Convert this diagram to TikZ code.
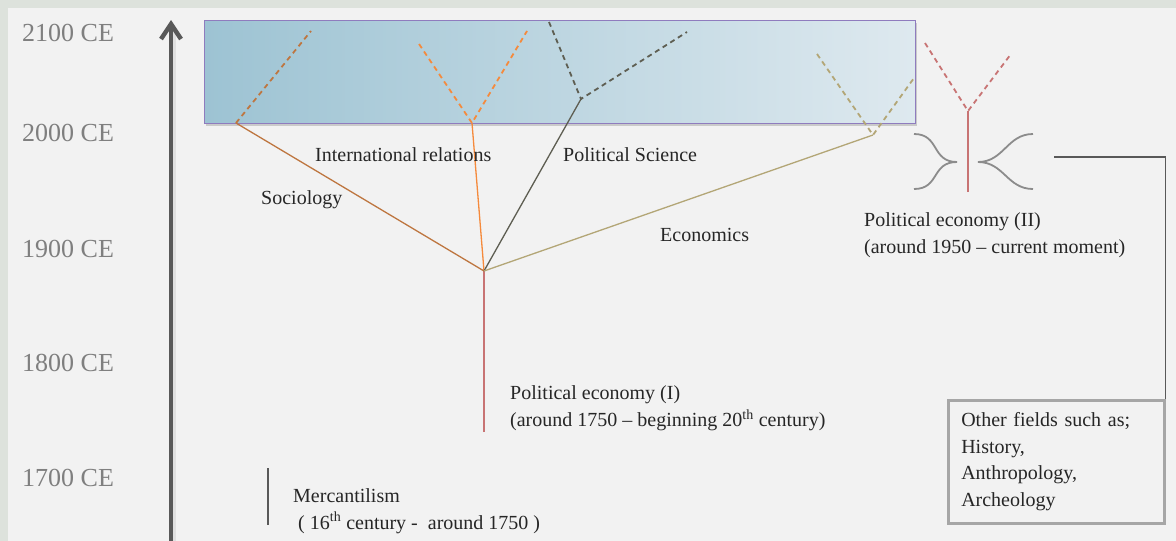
\documentclass[tikz,border=0pt]{standalone}
\usepackage{fontspec}
\setmainfont{Liberation Serif}
\usetikzlibrary{arrows.meta,shadows}
\definecolor{frame}{HTML}{DDE2DC}
\definecolor{panel}{HTML}{F2F2F2}
\definecolor{yeargray}{HTML}{7F7F7F}
\definecolor{axisgray}{HTML}{595959}
\definecolor{socbrown}{HTML}{BE7640}
\definecolor{irorange}{HTML}{F58A3C}
\definecolor{psgray}{HTML}{5E5E52}
\definecolor{eckhaki}{HTML}{B3A676}
\definecolor{pered}{HTML}{C87474}
\definecolor{bandleft}{HTML}{9DC3D3}
\definecolor{bandright}{HTML}{DEE9EF}
\definecolor{bandedge}{HTML}{8F7CBE}
\definecolor{bracegray}{HTML}{8C8C8C}
\definecolor{boxgray}{HTML}{A6A6A6}
\definecolor{textdark}{HTML}{262626}
\tikzset{
  year/.style={anchor=west, inner sep=0pt, text=yeargray, font=\fontsize{26}{30}\selectfont},
  lbl/.style={anchor=west, inner sep=0pt, text=textdark, align=left, font=\fontsize{20}{27}\selectfont},
  solidbranch/.style={line width=1.3pt},
  futurebranch/.style={line width=1.8pt, dash pattern=on 5pt off 4pt},
  bracecurve/.style={draw=bracegray, line width=1.8pt},
}
\begin{document}
\begin{tikzpicture}[x=1pt, y=-1pt]
  \useasboundingbox (0,0) rectangle (1176,541);
  % background
  \fill[frame] (0,0) rectangle (1176,541);
  \fill[panel] (8,8) rectangle (1176,541);

  % time axis
  \coordinate (axisbot) at (171,541);
  \coordinate (axistop) at (171,20);
  \draw[line width=5pt, black, opacity=0.07] (173,541) -- (173,32);
  \draw[axisgray, line width=4.5pt, line join=round,
        -{Straight Barb[length=15pt, width=20pt]}] (axisbot) -- (axistop);

  % year labels
  \node[year] (y2100) at (22,33) {2100 CE};
  \node[year] (y2000) at (22,133) {2000 CE};
  \node[year] (y1900) at (22,249) {1900 CE};
  \node[year] (y1800) at (22,363) {1800 CE};
  \node[year] (y1700) at (22,478) {1700 CE};

  % future band
  \node[draw=bandedge, line width=1.3pt, left color=bandleft, right color=bandright,
        minimum width=711pt, minimum height=103pt, inner sep=0pt, anchor=north west,
        drop shadow={shadow xshift=1.5pt, shadow yshift=-2.5pt, opacity=0.35}]
        (future) at (204,20) {};

  % branching points
  \coordinate (J) at (484,271);
  \coordinate (trunkbot) at (484,432);
  \coordinate (socE) at (236,123);
  \coordinate (socT) at (311,31);
  \coordinate (irE) at (472,123);
  \coordinate (irL) at (419,44);
  \coordinate (irR) at (527,31);
  \coordinate (psE) at (581,99);
  \coordinate (psL) at (549,22);
  \coordinate (psR) at (687,32);
  \coordinate (ecE) at (873,135);
  \coordinate (ecL) at (817,54);
  \coordinate (ecR) at (914,78);
  \coordinate (peB) at (968,192);
  \coordinate (peJ) at (968,111);
  \coordinate (peL) at (925,43);
  \coordinate (peR) at (1011,54);

  % political economy (I) trunk and its branches
  \draw[pered, solidbranch] (trunkbot) -- (J);
  \draw[socbrown, solidbranch] (J) -- (socE);
  \draw[irorange, solidbranch] (J) -- (irE);
  \draw[psgray, solidbranch] (J) -- (psE);
  \draw[eckhaki, solidbranch] (J) -- (ecE);

  % projected growth
  \draw[socbrown, futurebranch] (socE) -- (socT);
  \draw[irorange, futurebranch] (irL) -- (irE) -- (irR);
  \draw[psgray, futurebranch] (psL) -- (psE) -- (psR);
  \draw[eckhaki, futurebranch] (ecL) -- (ecE) -- (ecR);

  % political economy (II)
  \draw[pered, solidbranch, line width=1.6pt] (peB) -- (peJ);
  \draw[pered, futurebranch] (peL) -- (peJ) -- (peR);

  % brackets on both sides of the second trunk
  \coordinate (lbTop) at (914,134);
  \coordinate (lbTip) at (957,162);
  \coordinate (lbBot) at (914,189);
  \coordinate (rbTop) at (1033,134);
  \coordinate (rbTip) at (978,162);
  \coordinate (rbBot) at (1033,189);
  \draw[bracecurve] (lbTop) .. controls (940,134) and (931,162) .. (lbTip)
                          .. controls (931,162) and (940,189) .. (lbBot);
  \draw[bracecurve] (rbTop) .. controls (1007,134) and (1004,162) .. (rbTip)
                          .. controls (1004,162) and (1007,189) .. (rbBot);

  % other fields box and its connector
  \node[draw=boxgray, line width=2.5pt, fill=panel, anchor=north west, inner xsep=13pt,
        text width=190pt, minimum height=123pt, align=left, text=textdark,
        font=\fontsize{20}{26.5}\selectfont]
        (others) at (947,399) {Other fields such as;\\History,\\Anthropology,\\Archeology};
  \coordinate (linkstart) at (1054,157);
  \draw[axisgray, line width=1.2pt] (linkstart) -| (others.north east);

  % mercantilism
  \coordinate (mtop) at (268,468);
  \coordinate (mbot) at (268,525);
  \draw[axisgray, line width=1.2pt] (mtop) -- (mbot);

  % labels
  \node[lbl] (ir) at (315,155) {International relations};
  \node[lbl] (ps) at (563,155) {Political Science};
  \node[lbl] (soc) at (261,200) {Sociology};
  \node[lbl] (ec) at (660,235) {Economics};
  \node[lbl] (pe1) at (510,408.5) {Political economy (I)\\(around 1750 – beginning 20\textsuperscript{th} century)};
  \node[lbl] (pe2) at (864,235.5) {Political economy (II)\\(around 1950 – current moment)};
  \node[lbl] (merc) at (293,511) {Mercantilism\\\ ( 16\textsuperscript{th} century - \ around 1750 )};
\end{tikzpicture}
\end{document}
